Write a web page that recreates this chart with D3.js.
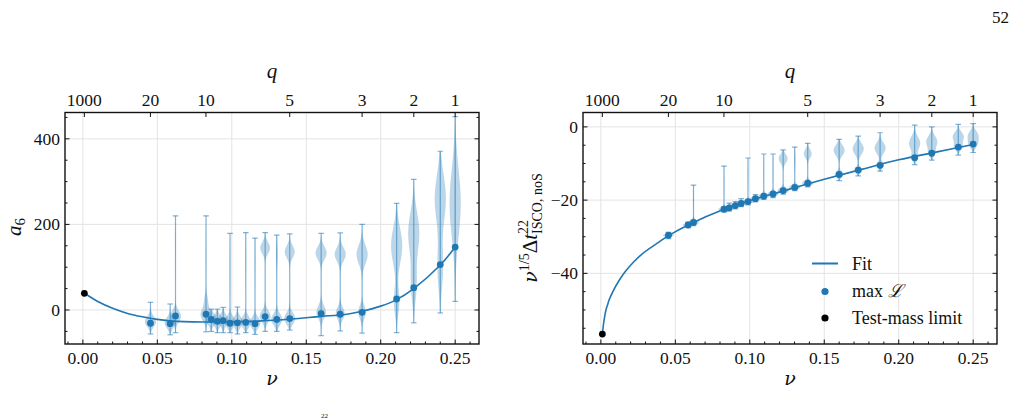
<!DOCTYPE html>
<html><head><meta charset="utf-8">
<script src="https://cdn.jsdelivr.net/npm/d3@7"></script>
<style>
body{margin:0;background:#fff}
svg{display:block}
text{font-family:"Liberation Serif","Times New Roman",serif;fill:#111}
</style>
</head><body><svg id="c" width="1018" height="419"></svg>
<script>
// ---------- data ----------
const qLabels = ["1000","20","10","5","3","2","1"];
const qValues = [1000,20,10,5,3,2,1];
const nuTicks = [0,0.05,0.10,0.15,0.20,0.25];
const nuTickLabels = ["0.00","0.05","0.10","0.15","0.20","0.25"];
const a6Ticks = [0,200,400];
const dtTicks = [0,-20,-40];

const nu = [0.0454,0.0586,0.0622,0.0827,0.0862,0.0903,0.0942,0.0988,0.1038,0.1094,0.1156,
            0.1224,0.1302,0.1389,0.16,0.1728,0.1875,0.2107,0.2222,0.24,0.25];

// left panel: a6
const a6Best = [-31,-32,-14,-10,-22,-26.5,-25,-31,-30,-29,-32,-15.5,-22,-20,-8.5,-10,-5.5,25.7,52,106,147];
const a6Min  = [-56,-58,-53,-51,-50,-53,-53,-53,-56,-53,-57,-50,-50,-47,-60,-49,-54,-53,-30,-7,20];
const a6Max  = [18,14,220,220,2,2,6,179,7,181,168,181,175,178,179,180,200,249,305,371,452];
// violin lobes: [centre, spread, weight]
const a6Lobes = [
  [[-27,12,1]], [[-30,12,1]], [[-15,13,1],[150,40,0.04]], [[-12,13,1],[20,15,0.35],[130,40,0.04]],
  [[-22,12,1]], [[-25,12,1]], [[-24,12,1]], [[-28,12,1],[100,40,0.04]], [[-28,12,1]],
  [[-28,12,1],[120,40,0.05]], [[-30,12,1],[120,40,0.05]], [[145,13,0.9],[-15,13,1]],
  [[-22,13,1],[130,25,0.15]], [[136,14,0.9],[-20,13,1]], [[133,15,1],[-5,15,0.85]],
  [[130,16,1],[-8,14,0.8]], [[130,22,1],[-5,15,0.7]], [[150,42,1],[20,30,0.5]],
  [[180,48,1],[60,40,0.5]], [[260,55,1],[100,50,0.5]], [[250,80,1]]
];
const a6FitNu = [0.001,0.01,0.02,0.03,0.04,0.05,0.06,0.08,0.10,0.12,0.14,0.16,0.175,0.1875,0.20,0.21,0.2222,0.24,0.25];
const a6Fit   = [39,20,4,-8,-16,-22,-26,-28,-27.5,-25.5,-21,-15,-11,-3,9,23,50,105,147];
const testNu = 0.001;
const a6Test = 39;

// right panel: nu^(1/5) Delta t
const dtBest = [-29.6,-26.8,-26.1,-22.5,-22.1,-21.5,-20.9,-20.4,-19.6,-18.9,-18.3,-17.4,-16.5,-15.4,-13.0,-11.8,-10.5,-8.4,-7.2,-5.5,-4.7];
const dtMin  = [-30.5,-27.5,-27,-23.2,-23,-22.4,-21.8,-21.3,-20.5,-19.8,-19.3,-18.4,-17.4,-16.4,-14.7,-13.4,-12.1,-10.3,-9.1,-7.7,-7];
const dtMax  = [-28.8,-26.0,-15.9,-10.7,-20.8,-20.4,-19.6,-8.5,-18.5,-7.4,-7.4,-6.3,-5.5,-4.5,-3.4,-2.5,-1.6,0.5,0,0.7,0.9];
const dtLobes = [
  [[-29.6,0.4,1]], [[-26.8,0.4,1]], [[-26.1,0.6,1],[-20,3,0.05]], [[-22.5,0.6,1],[-15,3,0.04]],
  [[-22.1,0.5,1]], [[-21.5,0.5,1]], [[-20.9,0.5,1]], [[-20.4,0.5,1],[-13,3,0.04]], [[-19.6,0.5,1]],
  [[-18.9,0.6,1],[-12,3,0.04]], [[-18.3,0.6,1],[-12,3,0.05]], [[-8.7,1.2,0.8],[-17.4,0.7,1]],
  [[-16.5,0.6,1],[-9,2,0.1]], [[-7.3,1.2,0.7],[-15.4,0.7,1]], [[-6.4,1.4,1],[-13,0.8,0.8]],
  [[-6,1.5,1],[-11.8,0.8,0.7]], [[-5.8,1.5,1],[-10.5,0.8,0.7]], [[-4.5,1.8,1],[-8.4,1,0.5]],
  [[-4.1,1.6,1],[-7.2,1,0.5]], [[-2.7,1.3,1],[-5.5,1,0.7]], [[-2.3,1.3,1],[-4.7,1.2,0.8]]
];
const dtFitNu = [0.001,0.0015,0.002,0.0027,0.0034,0.0045,0.0055,0.0078,0.012,0.0168,0.022,0.028,0.0392,0.0454,0.06,0.0827,0.1,0.125,0.15,0.175,0.2,0.225,0.25];
const dtFit   = [-56.6,-54.8,-53.2,-51.5,-50,-48.6,-47.3,-45.2,-42.1,-39.3,-36.9,-34.6,-31.4,-29.7,-26.5,-22.5,-20.1,-17.2,-14.3,-11.6,-9.0,-6.9,-4.8];
const dtTest = -56.6;

// ---------- drawing ----------
const svg = d3.select("#c");
const C0 = "#1f77b4";
const yTop = 112.5, yBot = 344;
const nuDomain = [-0.012, 0.266];
const qToNu = q => q/((1+q)*(1+q));

function panel(opt){
  const g = svg.append("g");
  const x = d3.scaleLinear().domain(nuDomain).range([opt.left, opt.left+414]);
  const y = d3.scaleLinear().domain(opt.yDomain).range([yBot, yTop]);
  const clipId = "clip"+opt.id;
  svg.append("clipPath").attr("id",clipId).append("rect")
    .attr("x",opt.left).attr("y",yTop).attr("width",414).attr("height",yBot-yTop);
  const grid = g.append("g").attr("stroke","#e3e3e3").attr("stroke-width",1);
  nuTicks.forEach(t=>grid.append("line").attr("x1",x(t)).attr("x2",x(t)).attr("y1",yTop).attr("y2",yBot));
  opt.yTicks.forEach(t=>grid.append("line").attr("x1",opt.left).attr("x2",opt.left+414).attr("y1",y(t)).attr("y2",y(t)));

  const body = g.append("g").attr("clip-path",`url(#${clipId})`);
  const hwMax = 5.6, cap = 2.8;
  nu.forEach((n,i)=>{
    const lo = opt.vmin[i], hi = opt.vmax[i], lobes = opt.lobes[i];
    const vals = d3.range(0,61).map(k=>lo+(hi-lo)*k/60);
    const dens = vals.map(v=>d3.sum(lobes,l=>l[2]*Math.exp(-0.5*((v-l[0])/l[1])**2)));
    const m = d3.max(dens);
    const pts = vals.map((v,k)=>({v, w: hwMax*dens[k]/m}));
    const cx = x(n);
    body.append("path").datum(pts)
      .attr("d", d3.area().y(d=>y(d.v)).x0(d=>cx-d.w).x1(d=>cx+d.w).curve(d3.curveBasis))
      .attr("fill", C0).attr("fill-opacity",0.3).attr("stroke","none");
    const wl = body.append("g").attr("stroke",C0).attr("stroke-opacity",0.55).attr("stroke-width",1.2);
    wl.append("line").attr("x1",cx).attr("x2",cx).attr("y1",y(lo)).attr("y2",y(hi));
    wl.append("line").attr("x1",cx-cap).attr("x2",cx+cap).attr("y1",y(lo)).attr("y2",y(lo));
    wl.append("line").attr("x1",cx-cap).attr("x2",cx+cap).attr("y1",y(hi)).attr("y2",y(hi));
  });
  body.append("path").datum(opt.fitNu.map((n,i)=>[n,opt.fit[i]]))
    .attr("d", d3.line().x(d=>x(d[0])).y(d=>y(d[1])).curve(d3.curveCatmullRom.alpha(0.5)))
    .attr("fill","none").attr("stroke",C0).attr("stroke-width",1.6);
  body.selectAll("circle.b").data(nu).join("circle")
    .attr("cx",d=>x(d)).attr("cy",(d,i)=>y(opt.best[i])).attr("r",3.4).attr("fill",C0);
  body.append("circle").attr("cx",x(testNu)).attr("cy",y(opt.test)).attr("r",3.4).attr("fill","#000");

  g.append("rect").attr("x",opt.left).attr("y",yTop).attr("width",414).attr("height",yBot-yTop)
    .attr("fill","none").attr("stroke","#111").attr("stroke-width",1.4);
  const tk = g.append("g").attr("stroke","#111").attr("stroke-width",1);
  nuTicks.forEach((t,i)=>{
    tk.append("line").attr("x1",x(t)).attr("x2",x(t)).attr("y1",yBot).attr("y2",yBot-4.5);
    g.append("text").attr("x",x(t)).attr("y",364).attr("text-anchor","middle").attr("font-size",17.5).text(nuTickLabels[i]);
  });
  for(let k=-1; k<=26; k++){
    if (k%5===0) continue;
    const tt = k/100;
    tk.append("line").attr("x1",x(tt)).attr("x2",x(tt)).attr("y1",yBot).attr("y2",yBot-2.5);
  }
  qValues.forEach((q,i)=>{
    const xv = x(qToNu(q));
    tk.append("line").attr("x1",xv).attr("x2",xv).attr("y1",yTop).attr("y2",yTop+4.5);
    g.append("text").attr("x",xv).attr("y",105.5).attr("text-anchor","middle").attr("font-size",17.5).text(qLabels[i]);
  });
  opt.yTicks.forEach((t,i)=>{
    tk.append("line").attr("x1",opt.left).attr("x2",opt.left+4.5).attr("y1",y(t)).attr("y2",y(t));
    tk.append("line").attr("x1",opt.left+414).attr("x2",opt.left+414-4.5).attr("y1",y(t)).attr("y2",y(t));
    g.append("text").attr("x",opt.left-5).attr("y",y(t)+6).attr("text-anchor","end").attr("font-size",17.5).text(opt.yTickLabels[i]);
  });
  opt.yMinor.forEach(t=>{
    if (t<opt.yDomain[0]||t>opt.yDomain[1]) return;
    tk.append("line").attr("x1",opt.left).attr("x2",opt.left+2.5).attr("y1",y(t)).attr("y2",y(t));
    tk.append("line").attr("x1",opt.left+414).attr("x2",opt.left+414-2.5).attr("y1",y(t)).attr("y2",y(t));
  });
  g.append("text").attr("x",opt.left+207).attr("y",385).attr("text-anchor","middle")
    .attr("font-size",19).attr("font-style","italic").style("font-family","'DejaVu Serif',serif").text("ν");
  g.append("text").attr("x",opt.left+207).attr("y",78).attr("text-anchor","middle")
    .attr("font-size",21).attr("font-style","italic").text("q");
  return {g,x,y};
}

const L = panel({id:"L", left:65, yDomain:[-79.5,461.5], yTicks:a6Ticks, yTickLabels:["0","200","400"],
  yMinor:[-50,50,100,150,250,300,350,450], vmin:a6Min, vmax:a6Max, lobes:a6Lobes, best:a6Best,
  fitNu:a6FitNu, fit:a6Fit, test:a6Test});
const R = panel({id:"R", left:583, yDomain:[-59.3,3.93], yTicks:dtTicks, yTickLabels:["0","−20","−40"],
  yMinor:[-55,-50,-45,-35,-30,-25,-15,-10,-5], vmin:dtMin, vmax:dtMax, lobes:dtLobes, best:dtBest,
  fitNu:dtFitNu, fit:dtFit, test:dtTest});

const la = svg.append("text").attr("transform","translate(21,227) rotate(-90)").attr("text-anchor","middle").attr("font-size",21);
la.append("tspan").attr("font-style","italic").text("a");
la.append("tspan").attr("dy",4).attr("font-size",15).text("6");

const lr = svg.append("text").attr("transform","translate(537,228) rotate(-90)").attr("text-anchor","middle").attr("font-size",21);
lr.append("tspan").attr("font-style","italic").style("font-family","'DejaVu Serif',serif").attr("font-size",19).text("ν");
lr.append("tspan").attr("dy",-8).attr("font-size",14).text("1/5");
lr.append("tspan").attr("dy",8).text("Δ");
lr.append("tspan").attr("font-style","italic").text("t");
lr.append("tspan").attr("dy",-9).attr("font-size",14).text("22");
lr.append("tspan").attr("dx",-14).attr("dy",14).attr("font-size",14).text("ISCO, noS");

const lg = svg.append("g");
lg.append("line").attr("x1",812).attr("x2",838).attr("y1",263.5).attr("y2",263.5).attr("stroke",C0).attr("stroke-width",2);
lg.append("text").attr("x",852).attr("y",269.5).attr("font-size",18).text("Fit");
lg.append("circle").attr("cx",825).attr("cy",291.5).attr("r",3.6).attr("fill",C0);
const ml = lg.append("text").attr("x",852).attr("y",296.5).attr("font-size",18);
ml.append("tspan").text("max ");
ml.append("tspan").attr("font-style","italic").text("ℒ");
lg.append("circle").attr("cx",825).attr("cy",318).attr("r",3.6).attr("fill","#000");
lg.append("text").attr("x",852).attr("y",323.5).attr("font-size",18).text("Test-mass limit");

svg.append("text").attr("x",992).attr("y",23).attr("font-size",17).text("52");
svg.append("text").attr("x",321).attr("y",418).attr("font-size",7).text("22");
</script></body></html>
